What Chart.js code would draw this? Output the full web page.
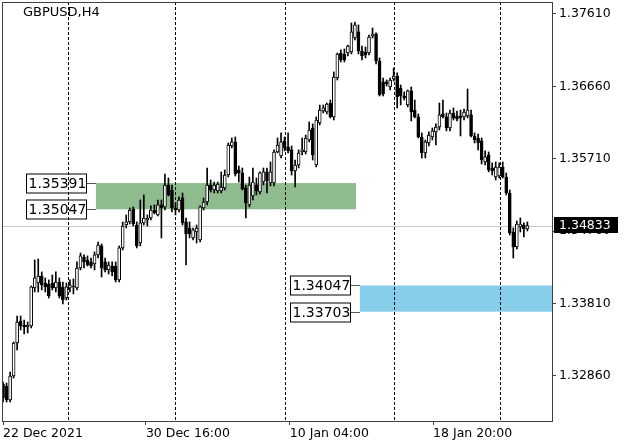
<!DOCTYPE html>
<html>
<head>
<meta charset="utf-8">
<script src="https://cdn.jsdelivr.net/npm/chart.js@4/dist/chart.umd.min.js"></script>
<style>
  html, body { margin: 0; padding: 0; background: #fff; }
  #c { display: block; }
</style>
</head>
<body>
<canvas id="c" width="625" height="446"></canvas>
<script>
// GBPUSD H4 candles (oldest first)
const symbol = 'GBPUSD,H4';

const open = [
  1.32754,1.32728,1.32545,1.32859,1.33292,1.33581,1.33529,1.33503,1.33516,1.34015,
  1.34080,1.34172,1.34080,1.34067,1.34080,1.34015,1.34093,1.34028,1.33883,1.34015,
  1.34041,1.34015,1.34277,1.34421,1.34382,1.34356,1.34330,1.34448,1.34566,1.34356,
  1.34251,1.34303,1.34303,1.34120,1.34540,1.34841,1.34881,1.35051,1.34841,1.34605,
  1.34868,1.34907,1.34933,1.35038,1.34973,1.35104,1.35078,1.35366,1.35300,1.35064,
  1.35038,1.35196,1.34881,1.34802,1.34671,1.34749,1.34644,1.35064,1.35143,1.35366,
  1.35300,1.35287,1.35287,1.35327,1.35497,1.35878,1.35931,1.35563,1.35524,1.35327,
  1.35104,1.35222,1.35366,1.35274,1.35405,1.35537,1.35392,1.35392,1.35799,1.35747,
  1.35944,1.35865,1.35826,1.35550,1.35628,1.35799,1.35799,1.35957,1.36114,1.35628,
  1.36180,1.36337,1.36324,1.36442,1.36259,1.36770,1.37098,1.37085,1.37098,1.37111,
  1.37295,1.37374,1.37124,1.37111,1.37098,1.37321,1.37348,1.36993,1.36718,1.36718,
  1.36652,1.36757,1.36796,1.36639,1.36534,1.36416,1.36600,1.36350,1.36259,1.35996,
  1.35786,1.35917,1.35996,1.36062,1.36127,1.36298,1.36259,1.36114,1.36311,1.36272,
  1.36272,1.36259,1.36272,1.36285,1.36009,1.35983,1.35944,1.35668,1.35760,1.35589,
  1.35471,1.35484,1.35602,1.35471,1.35261,1.34749,1.34553,1.34815,1.34841,1.34789
];
const high = [
  1.32781,1.32767,1.32912,1.33306,1.33647,1.33647,1.33594,1.33568,1.34041,1.34382,
  1.34395,1.34225,1.34146,1.34120,1.34185,1.34225,1.34146,1.34093,1.34080,1.34120,
  1.34133,1.34356,1.34474,1.34448,1.34435,1.34408,1.34487,1.34618,1.34592,1.34408,
  1.34356,1.34356,1.34356,1.34566,1.34881,1.34973,1.35064,1.35078,1.34881,1.35169,
  1.35235,1.34973,1.35091,1.35104,1.35169,1.35169,1.35510,1.35458,1.35366,1.35130,
  1.35209,1.35261,1.34933,1.34881,1.34802,1.34841,1.35091,1.35196,1.35589,1.35432,
  1.35405,1.35405,1.35537,1.35563,1.35917,1.35983,1.35996,1.35615,1.35589,1.35366,
  1.35471,1.35589,1.35458,1.35537,1.35589,1.35589,1.35668,1.35826,1.35983,1.36049,
  1.35996,1.36049,1.35878,1.35694,1.35826,1.35983,1.36022,1.36193,1.36167,1.36259,
  1.36416,1.36416,1.36442,1.36481,1.36849,1.37098,1.37138,1.37151,1.37203,1.37492,
  1.37505,1.37466,1.37190,1.37177,1.37334,1.37426,1.37361,1.37033,1.36770,1.36744,
  1.36770,1.36901,1.36836,1.36678,1.36587,1.36613,1.36652,1.36481,1.36298,1.36049,
  1.35957,1.36062,1.36114,1.36167,1.36442,1.36481,1.36311,1.36350,1.36377,1.36337,
  1.36350,1.36363,1.36626,1.36350,1.36049,1.36035,1.35983,1.35813,1.35799,1.35655,
  1.35668,1.35655,1.35668,1.35524,1.35300,1.34802,1.34894,1.34933,1.34868,1.34881
];
const low = [
  1.32518,1.32518,1.32518,1.32833,1.33201,1.33464,1.33411,1.33424,1.33490,1.33962,
  1.33962,1.33988,1.33962,1.33883,1.33988,1.33962,1.33883,1.33804,1.33857,1.33962,
  1.33936,1.33988,1.34251,1.34277,1.34303,1.34277,1.34251,1.34408,1.34159,1.34225,
  1.34198,1.34172,1.34093,1.34093,1.34513,1.34802,1.34854,1.34828,1.34540,1.34566,
  1.34841,1.34828,1.34907,1.34986,1.34959,1.34671,1.35038,1.35222,1.35012,1.34973,
  1.35012,1.34841,1.34316,1.34671,1.34644,1.34605,1.34618,1.35038,1.35104,1.35274,
  1.35261,1.35261,1.35261,1.35300,1.35471,1.35852,1.35484,1.35405,1.35300,1.34933,
  1.35078,1.35169,1.35235,1.35248,1.35366,1.35261,1.35353,1.35353,1.35786,1.35720,
  1.35813,1.35786,1.35497,1.35340,1.35589,1.35760,1.35773,1.35931,1.35694,1.35602,
  1.36154,1.36311,1.36298,1.36245,1.36219,1.36744,1.36980,1.36980,1.37059,1.37085,
  1.37269,1.37085,1.37006,1.37033,1.37072,1.37295,1.36954,1.36534,1.36534,1.36665,
  1.36613,1.36731,1.36377,1.36416,1.36481,1.36390,1.36206,1.36245,1.35983,1.35720,
  1.35720,1.35878,1.35957,1.35891,1.36088,1.36245,1.36075,1.36075,1.36219,1.36206,
  1.36009,1.36219,1.36245,1.35996,1.35917,1.35826,1.35642,1.35628,1.35537,1.35497,
  1.35432,1.35458,1.35458,1.35235,1.34710,1.34408,1.34526,1.34749,1.34684,1.34763
];
const close = [
  1.32571,1.32545,1.32859,1.33292,1.33568,1.33516,1.33503,1.33529,1.34028,1.34146,
  1.34172,1.34054,1.34028,1.33909,1.34015,1.34093,1.33909,1.33857,1.34028,1.34054,
  1.34028,1.34277,1.34435,1.34356,1.34316,1.34303,1.34448,1.34579,1.34277,1.34251,
  1.34316,1.34225,1.34120,1.34540,1.34828,1.34881,1.35038,1.34854,1.34566,1.34868,
  1.34933,1.34933,1.35038,1.34999,1.35104,1.35064,1.35366,1.35235,1.35064,1.35038,
  1.35169,1.34868,1.34723,1.34723,1.34776,1.34802,1.35078,1.35143,1.35366,1.35300,
  1.35366,1.35379,1.35340,1.35497,1.35891,1.35931,1.35510,1.35524,1.35314,1.35130,
  1.35366,1.35405,1.35287,1.35524,1.35537,1.35419,1.35537,1.35799,1.35891,1.35931,
  1.35852,1.35813,1.35550,1.35628,1.35786,1.35826,1.35983,1.36088,1.35760,1.36219,
  1.36350,1.36377,1.36429,1.36259,1.36783,1.37085,1.37006,1.37006,1.37190,1.37374,
  1.37466,1.37124,1.37059,1.37072,1.37308,1.37348,1.36993,1.36547,1.36560,1.36691,
  1.36744,1.36796,1.36521,1.36534,1.36508,1.36600,1.36324,1.36259,1.35996,1.35786,
  1.35931,1.36022,1.36075,1.36127,1.36285,1.36259,1.36114,1.36311,1.36245,1.36232,
  1.36245,1.36324,1.36350,1.36009,1.35957,1.35917,1.35694,1.35734,1.35563,1.35550,
  1.35602,1.35602,1.35471,1.35261,1.34736,1.34553,1.34854,1.34854,1.34789,1.34833
];

// time axis labels (bar index where each label sits)
const timeLabels = ['22 Dec 2021', '30 Dec 16:00', '10 Jan 04:00', '18 Jan 20:00'];
const timeLabelBars = [0, 40.6, 81.5, 122.2];
// vertical dotted grid (bar index)
const gridBars = [18.5, 48.9, 80.4, 111.1, 141.5];
const priceTicks = [1.37610, 1.36660, 1.35710, 1.34760, 1.33810, 1.32860];

// supply / demand zones
const zoneHigh = [1.35391, 1.34047];
const zoneLow  = [1.35047, 1.33703];
const zoneFrom = [26.4, 101.4];
const zoneTo   = [100.3, null];   // null = runs to the right edge
const zoneColors = ['#8fbc8f', '#87ceeb'];

const lastPrice = close[close.length - 1];
const bars = close.map((_, i) => i);
const isUp = bars.map(i => close[i] >= open[i]);

const axisFont = { family: 'DejaVu Sans', size: 12.5 };
const FRAME = '#404040';

// chart.js reserves room for half a label at the ends, we don't want that here
const noPad = s => { s.paddingTop = 0; s.paddingBottom = 0; s.paddingLeft = 0; s.paddingRight = 0; };

const overlay = {
  id: 'overlay',
  beforeDraw(chart) {
    const { ctx, chartArea: a, scales: { x, y } } = chart;
    ctx.save();
    // zones + their price boxes
    zoneHigh.forEach((hi, k) => {
      const x0 = x.getPixelForValue(zoneFrom[k]);
      const x1 = zoneTo[k] == null ? a.right : x.getPixelForValue(zoneTo[k]);
      const yt = y.getPixelForValue(hi), yb = y.getPixelForValue(zoneLow[k]);
      ctx.fillStyle = zoneColors[k];
      ctx.fillRect(x0, yt, x1 - x0, yb - yt);

      [hi, zoneLow[k]].forEach(p => {
        const py = Math.round(y.getPixelForValue(p)) + 0.5;
        const bx = Math.round(x0) - 69.5;
        ctx.strokeStyle = '#555';
        ctx.lineWidth = 1;
        ctx.beginPath();
        ctx.moveTo(bx + 60, py);
        ctx.lineTo(x0, py);
        ctx.stroke();
        ctx.fillStyle = '#fff';
        ctx.fillRect(bx, py - 9.5, 60, 19);
        ctx.strokeStyle = '#000';
        ctx.strokeRect(bx, py - 9.5, 60, 19);
        ctx.fillStyle = '#000';
        ctx.font = '14px "DejaVu Sans"';
        ctx.textBaseline = 'middle';
        ctx.textAlign = 'left';
        ctx.fillText(p.toFixed(5), bx + 2, py + 1);
      });
    });
    // current price line
    const py = Math.round(y.getPixelForValue(lastPrice)) + 0.5;
    ctx.strokeStyle = '#c8c8c8';
    ctx.beginPath();
    ctx.moveTo(a.left, py);
    ctx.lineTo(a.right, py);
    ctx.stroke();
    ctx.restore();
  },
  afterDraw(chart) {
    const { ctx, chartArea: a, scales: { y } } = chart;
    ctx.save();
    ctx.strokeStyle = FRAME;
    ctx.lineWidth = 1;
    ctx.strokeRect(a.left + 0.5, a.top + 0.5, a.right - a.left, a.bottom - a.top);
    ctx.fillStyle = '#000';
    ctx.font = '13px "DejaVu Sans"';
    ctx.textBaseline = 'middle';
    ctx.textAlign = 'left';
    ctx.fillText(symbol, 23, 13);
    // last price tag on the axis
    const py = Math.round(y.getPixelForValue(lastPrice));
    ctx.fillStyle = '#000';
    ctx.fillRect(a.right + 2, py - 9, 64, 16);
    ctx.fillStyle = '#fff';
    ctx.font = '12.5px "DejaVu Sans"';
    ctx.fillText(lastPrice.toFixed(5), a.right + 7, py);
    ctx.restore();
  }
};

new Chart(document.getElementById('c'), {
  type: 'bar',
  data: {
    datasets: [
      {
        label: 'wick',
        data: bars.map(i => ({ x: i, y: [low[i], high[i]] })),
        backgroundColor: '#000',
        barThickness: 1,
        grouped: false,
        order: 2
      },
      {
        label: 'body',
        data: bars.map(i => ({ x: i, y: [Math.min(open[i], close[i]), Math.max(open[i], close[i])] })),
        backgroundColor: isUp.map(u => u ? '#fff' : '#000'),
        borderColor: '#000',
        borderWidth: 1,
        borderSkipped: false,
        barThickness: 3,
        grouped: false,
        order: 1
      }
    ]
  },
  options: {
    responsive: false,
    animation: false,
    devicePixelRatio: 1,
    layout: { padding: { left: 2, top: 2, right: 0, bottom: 0 } },
    plugins: { legend: { display: false }, tooltip: { enabled: false } },
    scales: {
      x: {
        type: 'linear',
        position: 'bottom',
        min: -0.3,
        max: 156,
        offset: false,
        afterBuildTicks: s => { s.ticks = timeLabelBars.map(v => ({ value: v })); },
        afterFit: s => { s.height = 25; noPad(s); },
        ticks: {
          autoSkip: false,
          maxRotation: 0,
          align: 'start',
          padding: 1,
          color: '#000',
          font: axisFont,
          callback: (v, i) => timeLabels[i]
        },
        grid: { drawOnChartArea: false, offset: false, tickLength: 4, tickColor: FRAME },
        border: { color: FRAME }
      },
      xg: {
        type: 'linear',
        position: 'bottom',
        min: -0.3,
        max: 156,
        offset: false,
        afterBuildTicks: s => { s.ticks = gridBars.map(v => ({ value: v })); },
        afterFit: s => { s.height = 0; noPad(s); },
        ticks: { display: false },
        grid: { drawTicks: false, offset: false, color: '#000', lineWidth: 1 },
        border: { display: false, dash: [3, 2] }
      },
      y: {
        position: 'right',
        min: 1.32269,
        max: 1.37767,
        afterBuildTicks: s => { s.ticks = priceTicks.map(v => ({ value: v })); },
        afterFit: s => { s.width = 73; noPad(s); },
        ticks: {
          padding: 3,
          color: '#000',
          font: axisFont,
          callback: v => v.toFixed(5)
        },
        grid: { drawOnChartArea: false, tickLength: 4, tickColor: FRAME },
        border: { color: FRAME }
      }
    }
  },
  plugins: [overlay]
});
</script>
</body>
</html>
